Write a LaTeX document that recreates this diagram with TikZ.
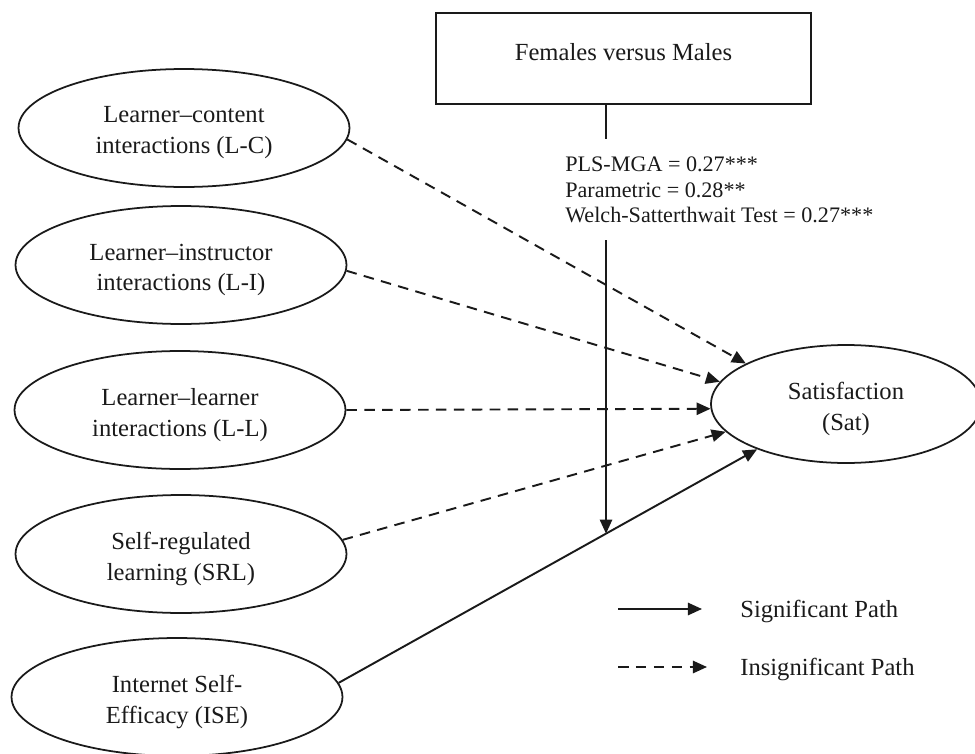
\documentclass[tikz,border=0pt]{standalone}
\usepackage{fontspec}
\setmainfont{Liberation Serif}
\usetikzlibrary{arrows.meta,shapes.geometric,calc}
\definecolor{ink}{HTML}{1A1A1A}
\begin{document}
\begin{tikzpicture}[x=0.02cm,y=-0.02cm,
  construct/.style={ellipse,draw=ink,line width=1pt,inner sep=0pt,
    minimum width=6.62cm,minimum height=2.36cm},
  ctext/.style={align=center,text=ink,inner sep=0pt,yshift=-5pt*0.569,
    font=\fontsize{14}{17.6}\selectfont},
  pathline/.style={draw=ink,line width=1.1pt,-{Triangle[length=8pt,width=7pt]}},
  insig/.style={pathline,dash pattern=on 6pt off 4.2pt},
  sig/.style={pathline},
  lbl/.style={text=ink,inner sep=0pt,anchor=west}]
\useasboundingbox (0,0) rectangle (975,754);
% groups box
\node[draw=ink,line width=1.1pt,minimum width=7.5cm,minimum height=1.82cm,
  text=ink,font=\fontsize{14}{17}\selectfont,text depth=8pt,inner sep=0pt]
  (grp) at (623.5,58.5) {Females versus Males};
% constructs
\node[construct,label={[ctext]center:Learner--content\\interactions (L-C)}] (lc) at (184,128) {};
\node[construct,label={[ctext]center:Learner--instructor\\interactions (L-I)}] (li) at (181,265) {};
\node[construct,label={[ctext]center:Learner--learner\\interactions (L-L)}] (ll) at (180,410) {};
\node[construct,label={[ctext]center:Self-regulated\\learning (SRL)}] (srl) at (181,554) {};
\node[construct,label={[ctext]center:Internet Self-\\Efficacy (ISE)}] (ise) at (177,697) {};
\node[construct,minimum width=5.4cm,minimum height=2.36cm,
  label={[ctext]center:Satisfaction\\(Sat)}] (sat) at (846,404) {};
% paths
\draw[insig] (lc.-4)  -- (sat.158);
\draw[insig] (li.-2)  -- (sat.170);
\draw[insig] (ll.0)   -- (sat.182);
\draw[insig] (srl.5)  -- (sat.193);
\draw[sig]   (ise.5)  -- (sat.207);
% moderation
\coordinate (v1) at (606,139);
\coordinate (v2) at (606,240);
\coordinate (m) at (intersection of ise.5--sat.207 and v2--606,700);
\node[lbl,align=left,font=\fontsize{12.6}{14.6}\selectfont] (stats) at (565,190)
  {PLS-MGA = 0.27***\\Parametric = 0.28**\\Welch-Satterthwait Test = 0.27***};
\draw[draw=ink,line width=1.1pt] (grp.south -| v1) -- (v1);
\draw[sig] (v2) -- (m);
% legend
\coordinate (s1) at (618,609);
\coordinate (s2) at (702,609);
\coordinate (d1) at (618,667);
\coordinate (d2) at (707,667);
\draw[sig] (s1) -- (s2);
\draw[insig] (d1) -- (d2);
\node[lbl,font=\fontsize{14}{17}\selectfont] (lsig) at (740,611) {Significant Path};
\node[lbl,font=\fontsize{14}{17}\selectfont] (lins) at (740,669) {Insignificant Path};
\end{tikzpicture}
\end{document}
